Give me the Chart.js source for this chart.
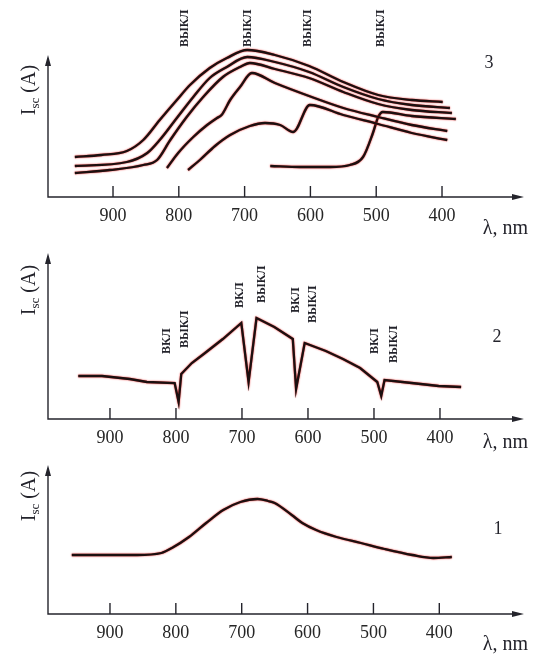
<!DOCTYPE html>
<html lang="ru">
<head>
  <meta charset="UTF-8">
  <title>Isc spectra</title>
  <script src="https://cdn.jsdelivr.net/npm/chart.js"></script>
  <style>
    html, body {
      margin: 0;
      width: 539px;
      height: 657px;
      overflow: hidden;
      background: #fff;
    }
    .panel {
      position: absolute;
      left: 0;
      width: 539px;
    }
  </style>
</head>
<body>

  <div class="panel" style="top:0"><canvas id="chart3" width="539" height="240"></canvas></div>
  <div class="panel" style="top:240px"><canvas id="chart2" width="539" height="220"></canvas></div>
  <div class="panel" style="top:460px"><canvas id="chart1" width="539" height="197"></canvas></div>

  <script>
    // wavelength ticks, nm
    const tickNm = [900, 800, 700, 600, 500, 400];

    // panel 3: light switched off at successive wavelengths
    const p3c1Nm = [958, 918, 879, 854, 829, 803, 783, 753, 727, 696, 654, 602, 550, 497, 446, 399];
    const p3c1I  = [40, 42, 46, 57, 77, 97, 112, 129, 139, 147, 142, 131, 115, 102, 97, 95];
    const p3c2Nm = [958, 879, 848, 829, 803, 778, 753, 727, 696, 654, 602, 550, 497, 446, 388];
    const p3c2I  = [31, 35, 44, 57, 79, 100, 119, 130, 140, 135, 125, 110, 98, 92, 89];
    const p3c3Nm = [958, 905, 854, 833, 813, 788, 763, 733, 707, 692, 654, 602, 550, 497, 446, 385];
    const p3c3I  = [24, 27, 32, 37, 57, 80, 100, 120, 130, 134, 128, 119, 105, 93, 87, 84];
    const p3c4Nm = [818, 801, 778, 757, 742, 735, 722, 707, 689, 654, 598, 550, 497, 446, 392];
    const p3c4I  = [29, 44, 60, 72, 79, 82, 97, 110, 124, 114, 100, 89, 80, 72, 66];
    const p3c5Nm = [786, 768, 745, 722, 692, 669, 646, 626, 601, 550, 497, 446, 392];
    const p3c5I  = [27, 37, 51, 62, 71, 74, 72, 65, 92, 82, 73, 64, 57];
    const p3c6Nm = [661, 616, 570, 540, 520, 505, 497, 490, 446, 379];
    const p3c6I  = [31, 30, 30, 32, 40, 64, 80, 85, 81, 78];
    const p3MarkNm   = [791, 695, 604, 493];
    const p3MarkI    = [150, 150, 150, 150];
    const p3MarkText = ['ВЫКЛ', 'ВЫКЛ', 'ВЫКЛ', 'ВЫКЛ'];

    // panel 2: light switched on / off
    const p2Nm = [948, 912, 870, 844, 802, 796, 792, 776, 756, 729, 701, 690, 678, 651, 623, 618, 605, 573, 547, 521, 495, 489, 484, 443, 402, 368];
    const p2I  = [43, 43, 40, 37, 36, 17, 45, 56, 66, 80, 96, 37, 101, 92, 80, 30, 76, 68, 60, 51, 37, 23, 39, 36, 33, 32];
    const p2MarkNm   = [813, 787, 703, 670, 619, 592, 498, 470];
    const p2MarkI    = [65, 71, 111, 116, 106, 96, 65, 56];
    const p2MarkText = ['ВКЛ', 'ВЫКЛ', 'ВКЛ', 'ВЫКЛ', 'ВКЛ', 'ВЫКЛ', 'ВКЛ', 'ВЫКЛ'];

    // panel 1: plain spectrum
    const p1Nm = [958, 911, 859, 822, 806, 780, 754, 728, 702, 676, 660, 650, 624, 608, 587, 556, 519, 483, 441, 409, 381];
    const p1I  = [59, 59, 59, 61, 66, 77, 91, 104, 112, 115, 113, 111, 99, 91, 84, 77, 71, 65, 59, 56, 57];

    const pts = (xs, ys) => xs.map((x, i) => ({ x: x, y: ys[i] }));
    const serif = '"Liberation Serif", "Times New Roman", serif';
    const ink = '#24242c';

    // hand-drawn look: red halo round the lines, arrows, inner ticks, labels
    const sketchAxes = {
      id: 'sketchAxes',
      beforeDatasetsDraw(chart) {
        const ctx = chart.ctx;
        ctx.save();
        ctx.shadowColor = 'rgb(228, 12, 12)';
        ctx.shadowBlur = 1.6;
      },
      afterDatasetsDraw(chart) {
        chart.ctx.restore();
      },
      afterDraw(chart, args, opts) {
        const { ctx, chartArea: a } = chart;
        const x = chart.scales.x, y = chart.scales.y;
        const top = y.getPixelForValue(opts.axisTop);
        ctx.save();
        ctx.strokeStyle = ink;
        ctx.fillStyle = ink;
        ctx.lineWidth = 1.4;

        ctx.beginPath();
        ctx.moveTo(a.left, top + 6);
        ctx.lineTo(a.left, a.bottom);
        ctx.lineTo(a.right - 6, a.bottom);
        tickNm.forEach(v => {
          const px = x.getPixelForValue(v);
          ctx.moveTo(px, a.bottom);
          ctx.lineTo(px, a.bottom - 11);
        });
        ctx.stroke();

        ctx.beginPath();
        ctx.moveTo(a.right, a.bottom);
        ctx.lineTo(a.right - 12, a.bottom - 3);
        ctx.lineTo(a.right - 12, a.bottom + 3);
        ctx.closePath();
        ctx.moveTo(a.left, top);
        ctx.lineTo(a.left - 3, top + 11);
        ctx.lineTo(a.left + 3, top + 11);
        ctx.closePath();
        ctx.fill();

        // switching marks
        ctx.font = 'bold 12px ' + serif;
        ctx.textAlign = 'left';
        ctx.textBaseline = 'middle';
        (opts.markNm || []).forEach((v, i) => {
          ctx.save();
          ctx.translate(x.getPixelForValue(v), y.getPixelForValue(opts.markI[i]));
          ctx.rotate(-Math.PI / 2);
          ctx.fillText(opts.markText[i], 0, 0);
          ctx.restore();
        });

        // y title: I_sc (A)
        ctx.save();
        ctx.translate(35, opts.titleY);
        ctx.rotate(-Math.PI / 2);
        ctx.textBaseline = 'alphabetic';
        const big = '20px ' + serif, small = '13px ' + serif;
        ctx.font = big;
        const wI = ctx.measureText('I').width, wA = ctx.measureText(' (A)').width;
        ctx.font = small;
        const wS = ctx.measureText('sc').width;
        let cx = -(wI + wS + wA) / 2;
        ctx.font = big;
        ctx.fillText('I', cx, 0);
        cx += wI;
        ctx.font = small;
        ctx.fillText('sc', cx, 4);
        cx += wS;
        ctx.font = big;
        ctx.fillText(' (A)', cx, 0);
        ctx.restore();

        // unit and panel number
        ctx.font = '20px ' + serif;
        ctx.textAlign = 'right';
        ctx.textBaseline = 'middle';
        ctx.fillText('λ, nm', 528, opts.unitY);
        ctx.font = '18px ' + serif;
        ctx.textAlign = 'center';
        ctx.fillText(opts.num, opts.numX, opts.numY);
        ctx.restore();
      }
    };

    function makeChart(id, datasets, cfg) {
      return new Chart(document.getElementById(id), {
        type: 'line',
        data: { datasets: datasets },
        options: {
          responsive: false,
          animation: false,
          devicePixelRatio: 1,
          layout: { padding: { left: 48, right: 15, top: 5, bottom: 0 } },
          elements: {
            point: { radius: 0 },
            line: { borderWidth: 2.3, borderColor: '#1c1010' }
          },
          plugins: {
            legend: { display: false },
            tooltip: { enabled: false },
            sketchAxes: cfg
          },
          scales: {
            x: {
              type: 'linear',
              reverse: true,
              min: cfg.xMin,
              max: cfg.xMax,
              afterBuildTicks: s => { s.ticks = tickNm.map(v => ({ value: v })); },
              afterFit: s => { s.height = cfg.axisHeight; },
              grid: { display: false },
              border: { display: false },
              ticks: {
                padding: 0,
                autoSkip: false,
                maxRotation: 0,
                color: '#262626',
                font: { family: serif, size: 18 }
              }
            },
            y: { display: false, min: 0, max: cfg.yMax }
          }
        },
        plugins: [sketchAxes]
      });
    }

    const smooth = { cubicInterpolationMode: 'monotone' };

    makeChart('chart3', [
      { data: pts(p3c1Nm, p3c1I), ...smooth },
      { data: pts(p3c2Nm, p3c2I), ...smooth },
      { data: pts(p3c3Nm, p3c3I), ...smooth },
      { data: pts(p3c4Nm, p3c4I), ...smooth },
      { data: pts(p3c5Nm, p3c5I), ...smooth },
      { data: pts(p3c6Nm, p3c6I), ...smooth }
    ], {
      xMin: 275.4, xMax: 998.8, yMax: 192, axisHeight: 43, axisTop: 142,
      titleY: 90, unitY: 229, num: '3', numX: 489, numY: 63,
      markNm: p3MarkNm, markI: p3MarkI, markText: p3MarkText
    });

    makeChart('chart2', [
      { data: pts(p2Nm, p2I), tension: 0 }
    ], {
      xMin: 272.7, xMax: 993.9, yMax: 174, axisHeight: 41, axisTop: 166,
      titleY: 50, unitY: 203, num: '2', numX: 497, numY: 97,
      markNm: p2MarkNm, markI: p2MarkI, markText: p2MarkText
    });

    makeChart('chart1', [
      { data: pts(p1Nm, p1I), ...smooth }
    ], {
      xMin: 271.4, xMax: 994.1, yMax: 149, axisHeight: 43, axisTop: 149,
      titleY: 36, unitY: 185, num: '1', numX: 498, numY: 69
    });
  </script>
</body>
</html>
